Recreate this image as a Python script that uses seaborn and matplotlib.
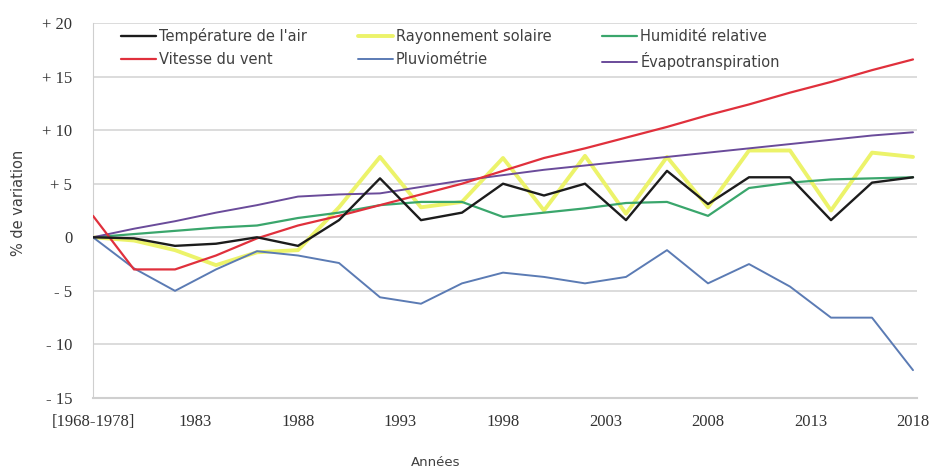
import matplotlib
matplotlib.use("Agg")
import matplotlib.pyplot as plt
import seaborn as sns

# Two-year steps; the first point is the 1968-1978 reference period
years = [1978, 1980, 1982, 1984, 1986, 1988, 1990, 1992, 1994, 1996, 1998,
         2000, 2002, 2004, 2006, 2008, 2010, 2012, 2014, 2016, 2018]

temperature = [0.0, -0.1, -0.8, -0.6, 0.0, -0.8, 1.6, 5.5, 1.6, 2.3, 5.0,
               3.9, 5.0, 1.6, 6.2, 3.1, 5.6, 5.6, 1.6, 5.1, 5.6]
rayonnement = [0.0, -0.3, -1.2, -2.6, -1.4, -1.2, 2.8, 7.5, 2.8, 3.3, 7.4,
               2.5, 7.6, 2.2, 7.5, 2.8, 8.1, 8.1, 2.5, 7.9, 7.5]
humidite = [0.0, 0.3, 0.6, 0.9, 1.1, 1.8, 2.3, 3.0, 3.3, 3.3, 1.9,
            2.3, 2.7, 3.2, 3.3, 2.0, 4.6, 5.1, 5.4, 5.5, 5.6]
vent = [2.0, -3.0, -3.0, -1.7, -0.1, 1.1, 2.0, 3.0, 4.0, 5.0, 6.2,
        7.4, 8.3, 9.3, 10.3, 11.4, 12.4, 13.5, 14.5, 15.6, 16.6]
pluviometrie = [0.0, -2.9, -5.0, -3.0, -1.3, -1.7, -2.4, -5.6, -6.2, -4.3, -3.3,
                -3.7, -4.3, -3.7, -1.2, -4.3, -2.5, -4.6, -7.5, -7.5, -12.4]
evapo = [0.0, 0.8, 1.5, 2.3, 3.0, 3.8, 4.0, 4.1, 4.7, 5.3, 5.8,
         6.3, 6.7, 7.1, 7.5, 7.9, 8.3, 8.7, 9.1, 9.5, 9.8]

xtick_pos = [1978, 1983, 1988, 1993, 1998, 2003, 2008, 2013, 2018]
xtick_labels = ["[1968-1978]", "1983", "1988", "1993", "1998", "2003", "2008", "2013", "2018"]
ytick_pos = [-15, -10, -5, 0, 5, 10, 15, 20]
ytick_labels = ["- 15", "- 10", "- 5", "0", "+ 5", "+ 10", "+ 15", "+ 20"]

sns.set_style("white")
plt.rcParams['font.family'] = ['DejaVu Sans']

W, H = 931, 470
fig = plt.figure(figsize=(W / 100, H / 100), dpi=100)
ax = fig.add_axes([93 / W, 1 - 398 / H, (917 - 93) / W, (398 - 23) / H])

series = [
    ("Rayonnement solaire", rayonnement, "#ecf36a", 2.8, 2),
    ("Humidité relative", humidite, "#3aa66c", 1.6, 3),
    ("Pluviométrie", pluviometrie, "#5b7bb4", 1.4, 4),
    ("Évapotranspiration", evapo, "#6a4b9a", 1.4, 5),
    ("Vitesse du vent", vent, "#e0303c", 1.6, 6),
    ("Température de l'air", temperature, "#1c1c1c", 1.7, 7),
]
lines = {}
for name, vals, color, lw, z in series:
    sns.lineplot(x=years, y=vals, ax=ax, color=color, linewidth=lw,
                 zorder=z, legend=False)
    lines[name] = ax.lines[-1]

ax.set_xlim(1978, 2018 + 40 * 4 / 820)
ax.set_ylim(-15, 20)
ax.set_xticks(xtick_pos)
ax.set_xticklabels(xtick_labels, family="Liberation Serif", fontsize=12, color="#333333")
ax.set_yticks(ytick_pos)
ax.set_yticklabels(ytick_labels, family="Liberation Serif", fontsize=12, color="#333333")
ax.tick_params(axis="y", length=0, pad=15)
ax.tick_params(axis="x", length=7, direction="inout", color="#c8c8c8", width=1, pad=8)

ax.grid(axis="y", color="#d9d9d9", linewidth=1.3)
ax.grid(axis="x", visible=False)
for side in ("top", "right"):
    ax.spines[side].set_visible(False)
ax.spines["left"].set_color("#cfcfcf")
ax.spines["bottom"].set_color("#cfcfcf")
ax.spines["bottom"].set_linewidth(1.5)

ax.set_ylabel("% de variation", fontsize=10.5, color="#404040")
ax.yaxis.set_label_coords((26 - 93) / 824, (398 - 203) / 375)
ax.set_xlabel("Années", fontsize=9.5, color="#404040", va="center")
ax.xaxis.set_label_coords((436 - 93) / 824, (398 - 462) / 375)

order = ["Température de l'air", "Vitesse du vent", "Rayonnement solaire",
         "Pluviométrie", "Humidité relative", "Évapotranspiration"]
ax.legend([lines[n] for n in order], order, ncol=3, loc="upper left",
          bbox_to_anchor=(121 / W, 1 - 28 / H), bbox_transform=fig.transFigure,
          frameon=False, fontsize=10.5, handlelength=2.4, handletextpad=0.2,
          columnspacing=3.5, labelspacing=0.55, borderpad=0, borderaxespad=0,
          labelcolor="#404040")

fig.savefig("out.png", dpi=100)
